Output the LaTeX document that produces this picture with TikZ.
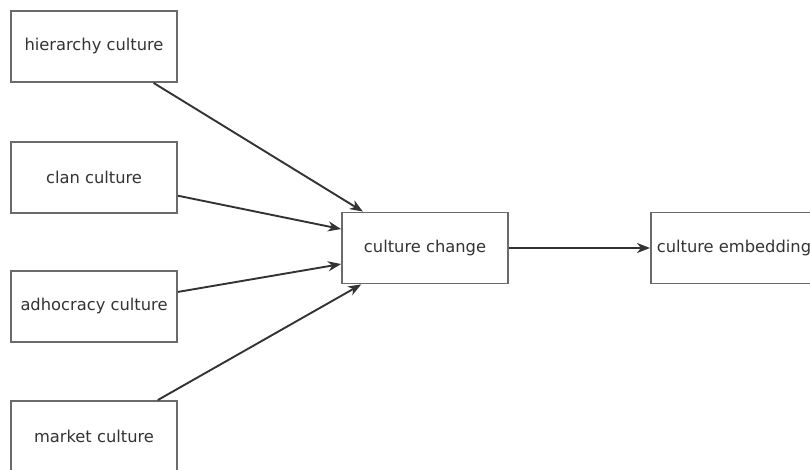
\documentclass[tikz,border=0pt]{standalone}
\usepackage{fontspec}
\setmainfont{DejaVu Sans}
\usetikzlibrary{arrows.meta,calc}
\definecolor{boxline}{HTML}{6A6A6A}
\definecolor{linkline}{HTML}{333333}
\definecolor{txt}{HTML}{333333}
\tikzset{
  block/.style={draw=boxline, line width=1.9pt, fill=white, minimum width=166pt,
    minimum height=71pt, inner sep=0pt, font=\fontsize{16.3}{19}\selectfont, text=txt},
  link/.style={draw=linkline, line width=1.9pt,
    -{Stealth[length=13pt,width=10pt,inset=4pt]}}
}
\begin{document}
\begin{tikzpicture}[x=1pt,y=-1pt]
  \useasboundingbox (0,0) rectangle (810,470);
  \clip (0,0) rectangle (810,470);
  % source cultures on the left
  \node[block] (hier)   at (94,46.5)  {hierarchy culture};
  \node[block] (clan)   at (94,177.5) {clan culture};
  \node[block] (adho)   at (94,306.5) {adhocracy culture};
  \node[block] (market) at (94,436.5) {market culture};
  % central and final stages
  \node[block] (change) at (425,248) {culture change};
  \node[block, anchor=west] (embed) at (650,248) {culture embedding};
  % connectors into the central box
  \draw[link] ($(hier.south west)!0.855!(hier.south east)$) -- ($(change.north west)!0.13!(change.north east)$);
  \draw[link] ($(clan.north east)!0.75!(clan.south east)$) -- ($(change.north west)!0.24!(change.south west)$);
  \draw[link] ($(adho.north east)!0.3!(adho.south east)$) -- ($(change.north west)!0.72!(change.south west)$);
  \draw[link] ($(market.north west)!0.88!(market.north east)$) -- ($(change.south west)!0.12!(change.south east)$);
  % onward to embedding
  \draw[link] (change.east) -- (embed.west);
\end{tikzpicture}
\end{document}
